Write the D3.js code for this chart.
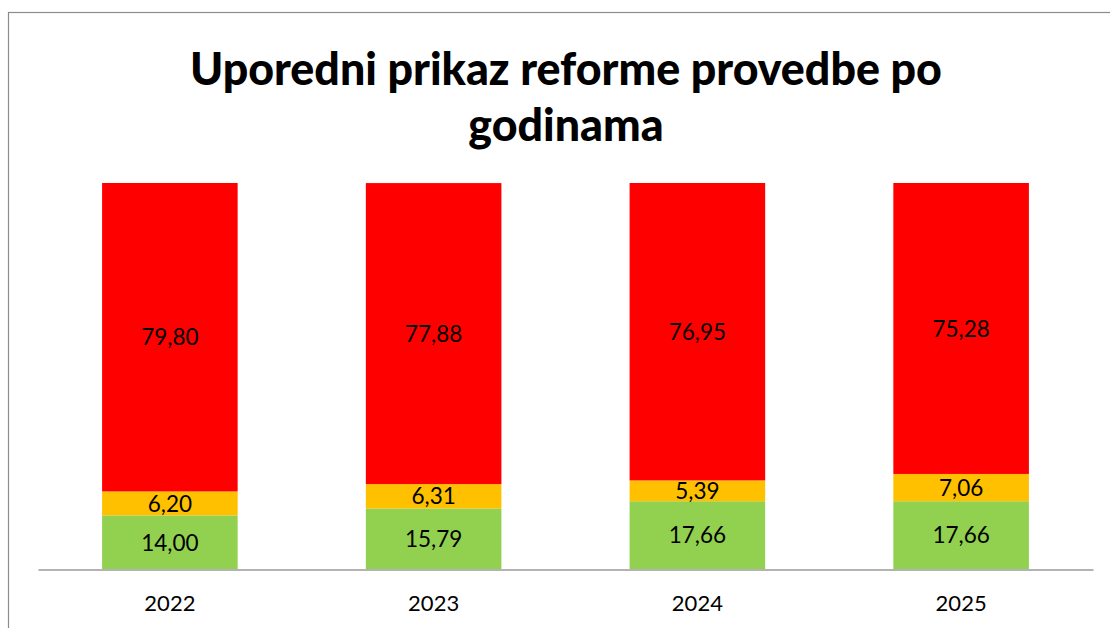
<!DOCTYPE html>
<html>
<head>
<meta charset="utf-8">
<script src="https://cdn.jsdelivr.net/npm/d3@7"></script>
<style>
  body { margin: 0; background: #fff; }
  text { font-family: Lato, "Open Sans", sans-serif; }
</style>
</head>
<body>
<div id="chart"></div>
<script>
// Data
const years = ["2022", "2023", "2024", "2025"];
const greenValues = [14.00, 15.79, 17.66, 17.66];
const orangeValues = [6.20, 6.31, 5.39, 7.06];
const redValues = [79.80, 77.88, 76.95, 75.28];
const seriesKeys = ["green", "orange", "red"];
const seriesColors = ["#92D050", "#FFC000", "#FF0000"];
const titleLines = ["Uporedni prikaz reforme provedbe po", "godinama"];

const width = 1110;
const height = 628;

const svg = d3.select("#chart")
    .append("svg")
    .attr("width", width)
    .attr("height", height);

// outer chart border (runs off the right and bottom)
svg.append("rect")
    .attr("x", 8.5)
    .attr("y", 12.5)
    .attr("width", 1300)
    .attr("height", 800)
    .attr("fill", "#fff")
    .attr("stroke", "#8c8c8c")
    .attr("stroke-width", 1.2);

// Title, scaled to fit the reference width
const title = svg.append("text")
    .attr("text-anchor", "middle")
    .style("font-weight", "900")
    .style("fill", "#000");
title.selectAll("tspan")
    .data(titleLines)
    .enter()
    .append("tspan")
    .attr("x", 566)
    .attr("y", (d, i) => 85 + i * 56)
    .text(d => d);
title.style("font-size", "50px");
const firstLen = title.select("tspan").node().getComputedTextLength();
title.style("font-size", (50 * 752 / firstLen) + "px");

// Table for the stack
const table = years.map((y, i) => ({
    year: y,
    green: greenValues[i],
    orange: orangeValues[i],
    red: redValues[i]
}));

const stack = d3.stack().keys(seriesKeys);
const series = stack(table);

const x = d3.scaleBand()
    .domain(years)
    .range([38, 1093])
    .paddingInner(0.486)
    .paddingOuter(0.243);

const y = d3.scaleLinear()
    .domain([0, 100])
    .range([569.5, 183]);

const color = d3.scaleOrdinal()
    .domain(seriesKeys)
    .range(seriesColors);

const groups = svg.selectAll("g.series")
    .data(series)
    .enter()
    .append("g")
    .attr("class", "series")
    .attr("fill", d => color(d.key));

groups.selectAll("rect")
    .data(d => d)
    .enter()
    .append("rect")
    .attr("x", d => x(d.data.year))
    .attr("y", d => y(d[1]))
    .attr("width", x.bandwidth())
    .attr("height", d => y(d[0]) - y(d[1]));

// value labels
groups.selectAll("text")
    .data(d => d)
    .enter()
    .append("text")
    .attr("x", d => x(d.data.year) + x.bandwidth() / 2)
    .attr("y", d => (y(d[0]) + y(d[1])) / 2)
    .attr("dy", "0.36em")
    .attr("text-anchor", "middle")
    .style("font-size", "22.5px")
    .style("fill", "#000")
    .text(d => (d[1] - d[0]).toFixed(2).replace(".", ","));

// x axis
const xAxis = svg.append("g")
    .attr("transform", "translate(0,569.5)")
    .call(d3.axisBottom(x).tickSize(0).tickSizeOuter(0).tickPadding(26));
xAxis.select(".domain")
    .attr("stroke", "#b3b3b3")
    .attr("stroke-width", 2);
xAxis.selectAll("text")
    .style("font-size", "22px")
    .style("font-family", "Lato, sans-serif")
    .style("fill", "#000");
</script>
</body>
</html>
